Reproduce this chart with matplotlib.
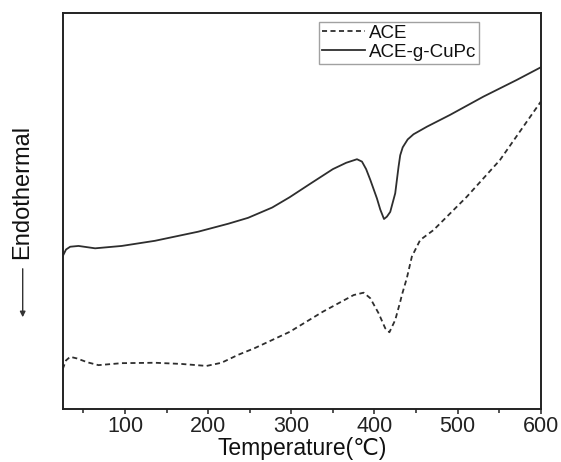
import matplotlib
matplotlib.use("Agg")
import matplotlib.pyplot as plt
from matplotlib.patches import FancyArrowPatch
import numpy as np

plt.rcParams['font.family'] = ['Liberation Sans', 'DejaVu Sans']

# ACE-g-CuPc (solid line): temperature (°C) and heat-flow signal (a.u.)
t_cupc = [25, 29, 34, 44, 64, 96, 136, 188, 224, 248, 277, 298, 322, 350, 366,
          379, 385, 390, 395, 403, 407, 411.5, 415, 419, 425, 429, 431, 434, 440,
          447, 463, 491, 531, 571, 600]
y_cupc = [0.385, 0.402, 0.409, 0.411, 0.405, 0.411, 0.424, 0.447, 0.467, 0.482,
          0.508, 0.534, 0.567, 0.605, 0.621, 0.630, 0.624, 0.605, 0.578, 0.531,
          0.503, 0.479, 0.485, 0.497, 0.544, 0.611, 0.640, 0.660, 0.680, 0.693,
          0.712, 0.742, 0.788, 0.830, 0.862]

# ACE (dashed line)
t_ace = [25, 29, 34, 42, 55, 68, 96, 136, 168, 198, 216, 236, 256, 298, 338, 375,
         387, 395, 405, 413, 418, 425, 431, 433, 439, 445, 455, 471, 511, 551, 600]
y_ace = [0.100, 0.122, 0.131, 0.127, 0.117, 0.110, 0.115, 0.116, 0.113, 0.108,
         0.116, 0.136, 0.153, 0.194, 0.245, 0.287, 0.293, 0.279, 0.241, 0.203,
         0.193, 0.224, 0.270, 0.287, 0.330, 0.384, 0.426, 0.451, 0.535, 0.628, 0.775]

x_ticks = [100, 200, 300, 400, 500, 600]

W, H = 561, 462
fig = plt.figure(figsize=(W / 100, H / 100), dpi=100)
ax = fig.add_axes([62.7 / W, (H - 408.7) / H, 478 / W, 396 / H])

line_col = '#2e2e2e'
ax.plot(t_ace, y_ace, color=line_col, lw=1.3, linestyle=(0, (2.8, 1.9)), label='ACE')
ax.plot(t_cupc, y_cupc, color=line_col, lw=1.3, linestyle='-', label='ACE-g-CuPc')

ax.set_xlim(25, 600)
ax.set_ylim(0, 1)
ax.set_yticks([])
ax.set_xticks(x_ticks)
ax.set_xticks(np.arange(50, 601, 50), minor=True)
ax.tick_params(axis='x', which='major', direction='out', length=3.5, width=1.1,
               labelsize=15.5, pad=1.5, colors='#222222')
ax.tick_params(axis='x', which='minor', direction='out', length=2.8, width=1.1,
               colors='#222222')
for s in ax.spines.values():
    s.set_linewidth(1.4)
    s.set_color('#222222')
ax.set_xlabel('Temperature(℃)', fontsize=16.5, labelpad=0, color='#111111')

leg = ax.legend(loc='upper right', bbox_to_anchor=(0.871, 0.9765),
                fontsize=13.5, frameon=True, fancybox=False, edgecolor='#8a8a8a',
                handlelength=2.3, handletextpad=0.2, borderpad=0.15, labelspacing=0.1,
                borderaxespad=0)
leg.get_frame().set_linewidth(1.0)
for t in leg.get_texts():
    t.set_color('#111111')

fig.text(22 / W, 1 - 192 / H, 'Endothermal', rotation=90, fontsize=17,
         ha='center', va='center', color='#111111')
fig.add_artist(FancyArrowPatch((22.7 / W, 1 - 266 / H), (22.7 / W, 1 - 320 / H),
                               transform=fig.transFigure, arrowstyle='-|>',
                               mutation_scale=8, color='#333333', lw=1))

fig.savefig('out.png', dpi=100)
